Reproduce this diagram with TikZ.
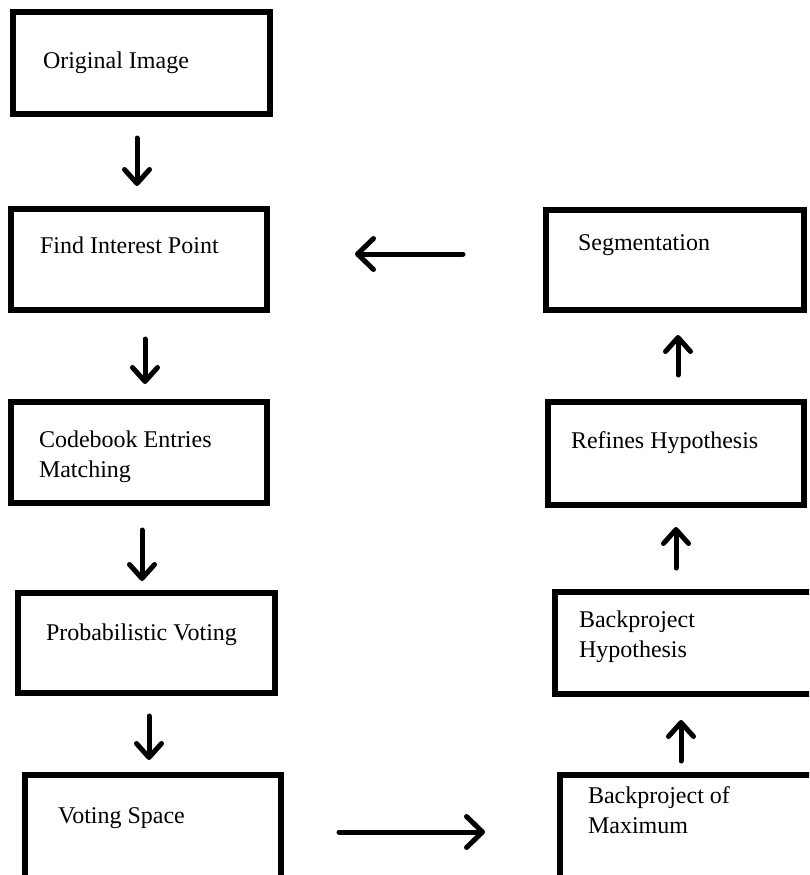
\documentclass[tikz,border=0pt]{standalone}
\usepackage{fontspec}
\setmainfont{Liberation Serif}
\usetikzlibrary{arrows.meta}
\begin{document}
\begin{tikzpicture}[x=1pt,y=-1pt,
  box/.style={draw=black, line width=6.5pt, rectangle, inner sep=0pt, outer sep=0pt},
  lbl/.style={anchor=base west, inner sep=0pt, outer sep=0pt, align=left,
    font=\fontsize{24}{30}\selectfont},
  varr/.style={line width=5pt, line cap=round,
    -{Straight Barb[length=14pt, width=25pt, line cap=round, line join=round]}},
  harr/.style={line width=5pt, line cap=round,
    -{Straight Barb[length=16pt, width=31pt, line cap=round, line join=round]}}]
\useasboundingbox (0,0) rectangle (809,875);
\clip (0,0) rectangle (809,875);
% boxes
\node[box, minimum width=257pt, minimum height=102pt] (b1) at (141.5,63) {};
\node[box, minimum width=256pt, minimum height=101pt] (b2) at (139,259.5) {};
\node[box, minimum width=256pt, minimum height=101pt] (b3) at (139,452.5) {};
\node[box, minimum width=257pt, minimum height=100pt] (b4) at (146.5,643) {};
\node[box, minimum width=256pt, minimum height=105pt] (b5) at (153,827.5) {};
\node[box, minimum width=258pt, minimum height=100pt] (r1) at (675,260) {};
\node[box, minimum width=256pt, minimum height=103pt] (r2) at (676,453.5) {};
\node[box, minimum width=260pt, minimum height=102pt] (r3) at (685,643) {};
\node[box, minimum width=260pt, minimum height=105pt] (r4) at (690,827.5) {};
% labels (base = baseline of the last line)
\node[lbl] (t1) at (43,69) {Original Image};
\node[lbl] (t2) at (40,253) {Find Interest Point};
\node[lbl] (t3) at (39,477) {Codebook Entries\\Matching};
\node[lbl] (t4) at (46,640) {Probabilistic Voting};
\node[lbl] (t5) at (58,823) {Voting Space};
\node[lbl] (s1) at (578,250) {Segmentation};
\node[lbl] (s2) at (571,448) {Refines Hypothesis};
\node[lbl] (s3) at (579,657) {Backproject\\Hypothesis};
\node[lbl] (s4) at (588,833) {Backproject of\\Maximum};
% arrow end points
\coordinate (a1s) at (137,138); \coordinate (a1e) at (137,186);
\coordinate (a2s) at (145,339); \coordinate (a2e) at (145,384);
\coordinate (a3s) at (142,530); \coordinate (a3e) at (142,581);
\coordinate (a4s) at (149,716); \coordinate (a4e) at (149,760);
\coordinate (u1s) at (678,375); \coordinate (u1e) at (678,335);
\coordinate (u2s) at (676,568); \coordinate (u2e) at (676,527);
\coordinate (u3s) at (681,761); \coordinate (u3e) at (681,720);
\coordinate (hls) at (463,254); \coordinate (hle) at (355,254);
\coordinate (hrs) at (339,832); \coordinate (hre) at (485,832);
% arrows
\draw[varr] (a1s) -- (a1e);
\draw[varr] (a2s) -- (a2e);
\draw[varr] (a3s) -- (a3e);
\draw[varr] (a4s) -- (a4e);
\draw[varr] (u1s) -- (u1e);
\draw[varr] (u2s) -- (u2e);
\draw[varr] (u3s) -- (u3e);
\draw[harr] (hls) -- (hle);
\draw[harr] (hrs) -- (hre);
\end{tikzpicture}
\end{document}
